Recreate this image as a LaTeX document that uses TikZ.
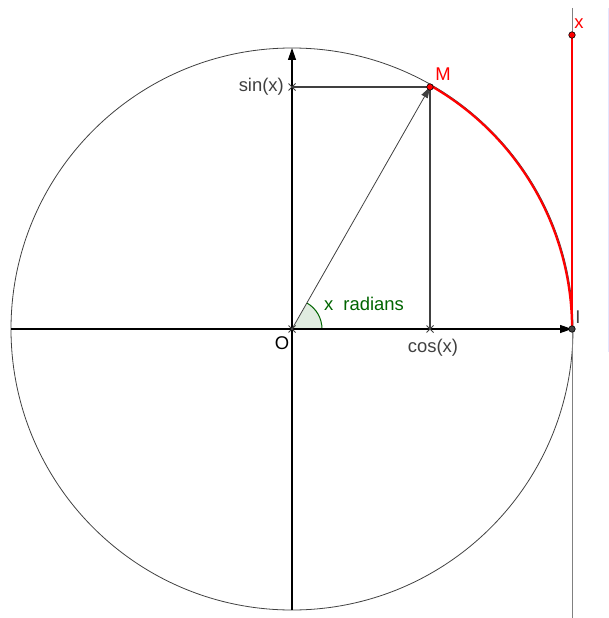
\documentclass[tikz,border=0pt]{standalone}
\usepackage{fontspec}
\setmainfont{Liberation Sans}
\usetikzlibrary{positioning, calc, arrows.meta}
\definecolor{geoRed}{RGB}{255, 0, 0}
\definecolor{geoGreen}{RGB}{0, 100, 0}
\definecolor{geoGray}{RGB}{64, 64, 64}

\begin{document}
\begin{tikzpicture}[
    x=1bp, y=-1bp,
    lbl/.style={font=\fontsize{18.5}{18.5}\selectfont, inner sep=0pt},
    axis/.style={-{Triangle[length=12bp, width=8bp]}, black, line width=1.2bp},
    seg/.style={geoGray, line width=1.2bp},
    pt/.style={circle, draw=black, line width=0.6bp, minimum size=6.5bp, inner sep=0pt},
    cross/.style={geoGray, line width=1bp},
  ]
    \useasboundingbox (0,0) rectangle (609,618);

    % points
    \coordinate (O) at (292,329);
    \coordinate (I) at (572,329);
    \coordinate (M) at (430,87);
    \coordinate (X) at (572,35);
    \coordinate (C) at (430,329);
    \coordinate (S) at (292,87);
    \coordinate (W) at (11,329);
    \coordinate (B) at (292,610);
    \coordinate (T) at (292,48);
    \coordinate (LineTop) at (572,8);
    \coordinate (LineBot) at (572,618);

    % circle and tangent line
    \draw[geoGray, line width=0.8bp] (O) circle (281);
    \draw[gray, line width=0.9bp] (LineTop) -- (LineBot);
    \draw[blue!10, line width=0.8bp] (608,8) -- (608,352);

    % angle
    \fill[geoGreen!12] (O) -- ++(30,0) arc[start angle=0, end angle=-60, radius=30] -- cycle;
    \draw[geoGreen, line width=1bp] ($(O)+(30,0)$) arc[start angle=0, end angle=-60, radius=30];

    % axes
    \draw[axis] (W) -- (I);
    \draw[axis] (B) -- (T);

    % projections
    \draw[seg] (M) -- (C);
    \draw[seg] (M) -- (S);
    \draw[-{Triangle[length=11bp, width=7bp]}, geoGray, line width=0.8bp] (O) -- (M);

    % crosses
    \foreach \p in {O, C, S} {
      \draw[cross] ($(\p)+(-3.5,-3.5)$) -- ($(\p)+(3.5,3.5)$);
      \draw[cross] ($(\p)+(-3.5,3.5)$) -- ($(\p)+(3.5,-3.5)$);
    }

    % arc length
    \draw[geoRed, line width=2.2bp] (I) arc[start angle=0, end angle=-60, radius=280];
    \draw[geoRed, line width=2.2bp] (I) -- (X);

    \node[pt, fill=geoRed] (Mpt) at (M) {};
    \node[pt, fill=geoRed] (Xpt) at (X) {};
    \node[pt, fill=geoGray] (Ipt) at (I) {};

    % labels
    \node[lbl, text=geoRed] (Mlab) at (443,74) {M};
    \node[lbl, text=geoRed] (Xlab) at (579,24) {x};
    \node[lbl, text=geoGray] (Ilab) at (578,317) {I};
    \node[lbl] (Olab) at (282,343) {O};
    \node[lbl, text=geoGray, left=8bp of S] (Slab) {sin(x)};
    \node[lbl, text=geoGray] (Clab) at (433,348) {cos(x)};
    \node[lbl, text=geoGreen] (Alab) at (364,304) {x\ \ radians};
  \end{tikzpicture}
\end{document}
